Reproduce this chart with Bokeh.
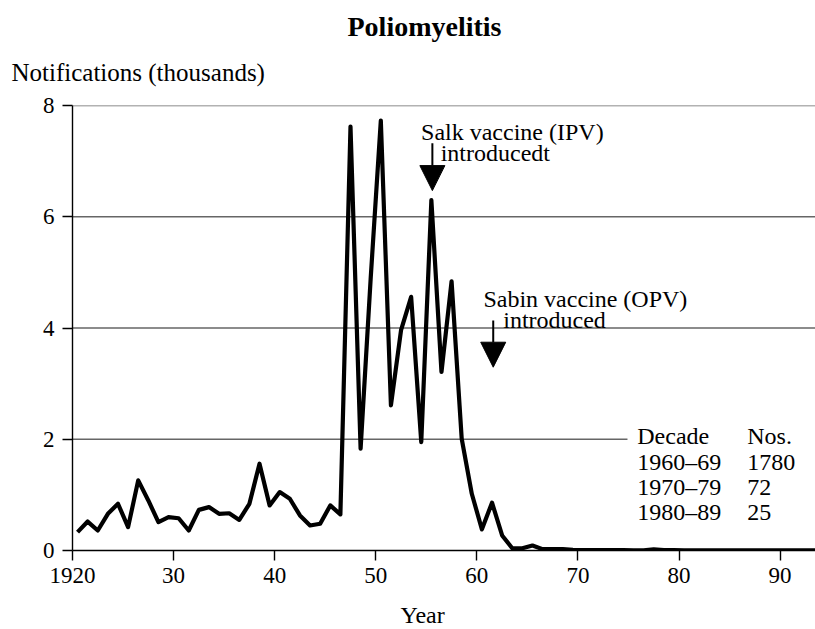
from bokeh.plotting import figure
from bokeh.models import Range1d, Label, Arrow, NormalHead, FixedTicker, ColumnDataSource, Title
from bokeh.core.properties import value
from bokeh.embed import file_html
from bokeh.resources import INLINE

# ---- data ----
years = list(range(1920, 1994))
notifications = [
    0.33, 0.52, 0.36, 0.66, 0.84, 0.42, 1.26, 0.90, 0.51, 0.60,   # 1920s
    0.58, 0.36, 0.73, 0.78, 0.66, 0.67, 0.55, 0.84, 1.56, 0.81,   # 1930s
    1.05, 0.93, 0.63, 0.45, 0.48, 0.81, 0.65, 7.62, 1.83, 4.90,   # 1940s
    7.73, 2.61, 3.96, 4.56, 1.95, 6.30, 3.21, 4.84, 2.01, 1.02,   # 1950s
    0.38, 0.86, 0.27, 0.04, 0.04, 0.09, 0.025, 0.025, 0.025, 0.01,  # 1960s
    0.008, 0.007, 0.006, 0.006, 0.005, 0.004, 0.004, 0.022, 0.008, 0.006,  # 1970s
    0.004, 0.003, 0.003, 0.003, 0.003, 0.002, 0.002, 0.002, 0.002, 0.002,  # 1980s
    0.002, 0.002, 0.002, 0.002,                                    # 1990-93
]
x_ticks = [1920, 1930, 1940, 1950, 1960, 1970, 1980, 1990]
x_tick_labels = ["1920", "30", "40", "50", "60", "70", "80", "90"]
y_ticks = [0, 2, 4, 6, 8]
grid_values = [2, 4, 6, 8]
grid_ends = [1974.9, 1993.5, 1993.5, 1993.5]
decades = ["1960\u201369", "1970\u201379", "1980\u201389"]
decade_nos = ["1780", "72", "25"]

FONT = "Liberation Serif"
X0, X1 = 1920, 1993.5

p = figure(width=815, height=629, output_backend="svg", toolbar_location=None,
           x_range=Range1d(X0, X1), y_range=Range1d(0, 8),
           min_border_left=72, min_border_right=0, min_border_top=105, min_border_bottom=79)
p.title.visible = False
p.outline_line_color = None
p.xgrid.visible = False
p.ygrid.visible = False

# horizontal guide lines
p.segment(x0=[X0] * len(grid_values), y0=grid_values, x1=grid_ends, y1=grid_values,
          line_color="#666666", line_width=1.5)

# data line (points at mid-year)
xs = [y + 0.5 for y in years]
p.line(xs, notifications, line_color="black", line_width=4.2, line_join="round")

# axes
for ax in (p.xaxis[0], p.yaxis[0]):
    ax.axis_line_color = "black"
    ax.axis_line_width = 1.4
    ax.major_tick_line_color = "black"
    ax.major_tick_line_width = 1.4
    ax.major_tick_out = 10
    ax.major_tick_in = 0
    ax.minor_tick_line_color = None
    ax.major_label_text_font = FONT
    ax.major_label_text_font_size = "23px"
    ax.major_label_text_color = "black"

p.xaxis.ticker = FixedTicker(ticks=x_ticks)
p.xaxis.major_label_overrides = {t: l for t, l in zip(x_ticks, x_tick_labels)}
p.xaxis.major_label_standoff = 7
p.yaxis.ticker = FixedTicker(ticks=y_ticks)
p.yaxis.major_label_standoff = 8

# titles outside the frame
p.add_layout(Title(text="Notifications (thousands)", align="left", offset=-61,
                   text_font=FONT, text_font_size="25px", text_font_style="normal",
                   text_color="black", vertical_align="top", standoff=35), "above")
p.add_layout(Title(text="Poliomyelitis", align="left", offset=275,
                   text_font=FONT, text_font_size="28px", text_font_style="bold",
                   text_color="black", vertical_align="bottom", standoff=0), "above")
p.add_layout(Title(text="Year", align="left", offset=328,
                   text_font=FONT, text_font_size="24px", text_font_style="normal",
                   text_color="black", vertical_align="bottom", standoff=0,
                   padding=dict(left=0, right=0, top=14, bottom=0)), "below")

def lab(text, x, y, size):
    p.add_layout(Label(x=x, y=y, text=text, text_font=FONT, text_font_size=size,
                       text_align="left", text_baseline="alphabetic", text_color="black"))

lab("Salk vaccine (IPV)", 1954.48, 7.52, "24px")
lab("introducedt", 1956.42, 7.14, "24px")
lab("Sabin vaccine (OPV)", 1960.65, 4.525, "24px")
lab("introduced", 1962.61, 4.135, "24px")

p.add_layout(Arrow(end=NormalHead(size=25, fill_color="black", line_color="black"),
                   x_start=1955.6, y_start=7.32, x_end=1955.6, y_end=6.47,
                   line_width=2, line_color="black"))
p.add_layout(Arrow(end=NormalHead(size=25, fill_color="black", line_color="black"),
                   x_start=1961.62, y_start=4.135, x_end=1961.62, y_end=3.295,
                   line_width=2, line_color="black"))

# table
row_y = [1.587, 1.138, 0.689]
src = ColumnDataSource(dict(dec=decades, nos=decade_nos, y=row_y,
                            xd=[1975.87] * 3, xn=[1986.75] * 3))
lab("Decade", 1975.87, 2.067, "24px")
lab("Nos.", 1986.75, 2.067, "24px")
p.text(x="xd", y="y", text="dec", source=src, text_font=value(FONT),
       text_font_size="24px", text_baseline="alphabetic", text_color="black")
p.text(x="xn", y="y", text="nos", source=src, text_font=value(FONT),
       text_font_size="24px", text_baseline="alphabetic", text_color="black")

open("out.html", "w").write(file_html(p, INLINE))
